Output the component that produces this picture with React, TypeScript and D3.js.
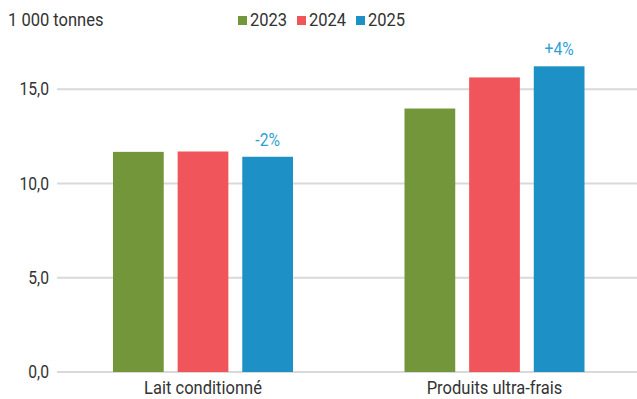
import React from "react";
import * as d3 from "d3";

const categories = ["Lait conditionné", "Produits ultra-frais"];
const years = ["2023", "2024", "2025"];
const values2023 = [11.68, 13.98];
const values2024 = [11.7, 15.63];
const values2025 = [11.42, 16.22];
const changeLabels = ["-2%", "+4%"];
const yTicks = [0, 5, 10, 15];
const unitLabel = "1 000 tonnes";

const colors = ["#74963a", "#f0555b", "#1d91c6"];
const FONT = "Roboto, 'Noto Sans', sans-serif";
const SX = 0.87;

function CText({ x, y, anchor = "start", children, size = 19, fill = "#333" }: any) {
  return (
    <text
      transform={`translate(${x},${y}) scale(${SX},1)`}
      textAnchor={anchor}
      fontSize={size}
      fill={fill}
      fontFamily={FONT}
    >
      {children}
    </text>
  );
}

export default function App() {
  const W = 637, H = 399;
  const left = 57, right = 637;
  const y = d3.scaleLinear().domain([0, 15]).range([372, 89.3]);
  const x0 = d3.scaleBand().domain(categories).range([57.25, 640.25]).padding(0);
  const x1 = d3.scaleBand().domain(years).range([0, 180]).paddingInner(0.215).paddingOuter(0);
  const series = [values2023, values2024, values2025];
  const fmt = (v: number) => v.toFixed(1).replace(".", ",");

  return (
    <svg width={W} height={H} style={{ position: "absolute", left: 0, top: 0 }}>
      <rect width={W} height={H} fill="#fff" />
      {yTicks.map((t) => (
        <g key={t}>
          <line x1={left} x2={right} y1={y(t)} y2={y(t)} stroke="#d9d9d9" strokeWidth={2} />
          <CText x={49} y={y(t) + 6} anchor="end" size={18}>{fmt(t)}</CText>
        </g>
      ))}
      {categories.map((c, i) => {
        const gx = x0(c)! + x0.bandwidth() / 2 - 90;
        return (
          <g key={c}>
            {years.map((yr, j) => (
              <rect
                key={yr}
                x={gx + x1(yr)!}
                y={y(series[j][i])}
                width={x1.bandwidth()}
                height={y(0) - y(series[j][i])}
                fill={colors[j]}
              />
            ))}
            <CText x={gx + x1("2025")! + x1.bandwidth() / 2} y={y(series[2][i]) - 11} anchor="middle" fill="#2e9fd4" size={18}>
              {changeLabels[i]}
            </CText>
            <CText x={x0(c)! + x0.bandwidth() / 2} y={394} anchor="middle">{c}</CText>
          </g>
        );
      })}
      <CText x={8} y={25.5}>{unitLabel}</CText>
      {years.map((yr, j) => {
        const lx = [238, 297, 356][j];
        return (
          <g key={yr}>
            <rect x={lx} y={16} width={9} height={9} fill={colors[j]} />
            <CText x={lx + 12} y={25.5}>{yr}</CText>
          </g>
        );
      })}
    </svg>
  );
}
